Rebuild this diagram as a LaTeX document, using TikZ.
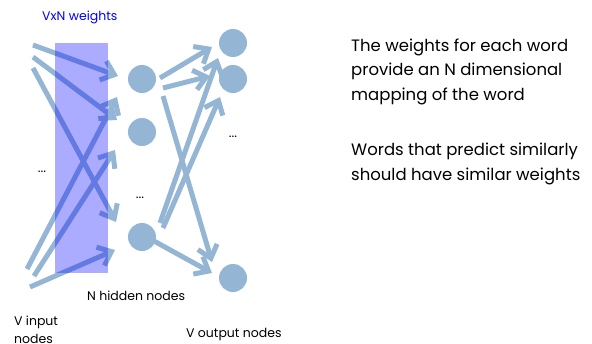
\documentclass[tikz,border=0pt]{standalone}
\usepackage{fontspec}
\setmainfont{Poppins}
\usetikzlibrary{arrows.meta}
\definecolor{netblue}{RGB}{148,182,212}
\tikzset{
  unit/.style={circle, fill=netblue, minimum size=28pt, inner sep=0pt},
  wire/.style={draw=netblue, line width=5pt, line cap=butt,
    -{Straight Barb[length=12pt, width=20pt]}},
  caption/.style={anchor=base west, inner sep=0pt, font=\fontsize{12.5}{18}\selectfont},
  remark/.style={anchor=base west, inner sep=0pt, align=left,
    font=\fontsize{16.5}{24.5}\selectfont},
  dots/.style={inner sep=0pt, font=\fontsize{13}{14}\selectfont}
}
\begin{document}
\begin{tikzpicture}[x=1pt, y=-1pt]
\useasboundingbox (0,0) rectangle (592,343);

% hidden layer
\node[unit] (h1) at (142,79) {};
\node[unit] (h2) at (142,132) {};
\node[unit] (h3) at (142,237) {};
% output layer
\node[unit] (o1) at (233,43) {};
\node[unit] (o2) at (233,79) {};
\node[unit] (o3) at (233,278) {};

% loose ends of the input connections
\coordinate (i1) at (33,45);
\coordinate (i2) at (33,57);
\coordinate (i3) at (33,68);
\coordinate (i4) at (27,269);
\coordinate (i5) at (34,276);
\coordinate (i6) at (30,287);

% input -> hidden
\draw[wire] (i1) -- ([shift={(-24,-3)}]h1.center);
\draw[wire] (i2) -- ([shift={(-25,-12)}]h2.center);
\draw[wire] (i3) -- ([shift={(-26,-15)}]h3.center);
\draw[wire] (i4) -- ([shift={(-25,18)}]h1.center);
\draw[wire] (i5) -- ([shift={(-27,18)}]h2.center);
\draw[wire] (i6) -- ([shift={(-27,13)}]h3.center);

% hidden -> output
\draw[wire] ([shift={(18,-1)}]h1.center) -- ([shift={(-21,4)}]o1.center);
\draw[wire] ([shift={(21,9)}]h1.center) -- ([shift={(-23,-3)}]o2.center);
\draw[wire] ([shift={(21,17)}]h1.center) -- ([shift={(-21,-16)}]o3.center);
\draw[wire] ([shift={(18,-14)}]h3.center) -- ([shift={(-15,15)}]o1.center);
\draw[wire] ([shift={(21,-9)}]h3.center) -- ([shift={(-13,18)}]o2.center);
\draw[wire] ([shift={(12,4)}]h3.center) -- ([shift={(-21,-5)}]o3.center);

% weight matrix band, laid over the connections
\fill[blue, fill opacity=0.33] (55,43) rectangle (108,273);

% ellipses
\node[dots] (din) at (42,172) {...};
\node[dots] (dhid) at (140,198) {...};
\node[dots] (dout) at (233,137) {...};

% labels (multi-line nodes are placed by the baseline of their last line)
\node[caption, text=blue] (wlab) at (42,20) {VxN weights};
\node[caption] (hlab) at (87,300) {N hidden nodes};
\node[caption, align=left] (ilab) at (14,343) {V input\\nodes};
\node[caption] (olab) at (186,337) {V output nodes};

% explanation
\node[remark] (t1) at (351,100) {The weights for each word\\provide an N dimensional\\mapping of the word};
\node[remark] (t2) at (351,180) {Words that predict similarly\\should have similar weights};
\end{tikzpicture}
\end{document}
